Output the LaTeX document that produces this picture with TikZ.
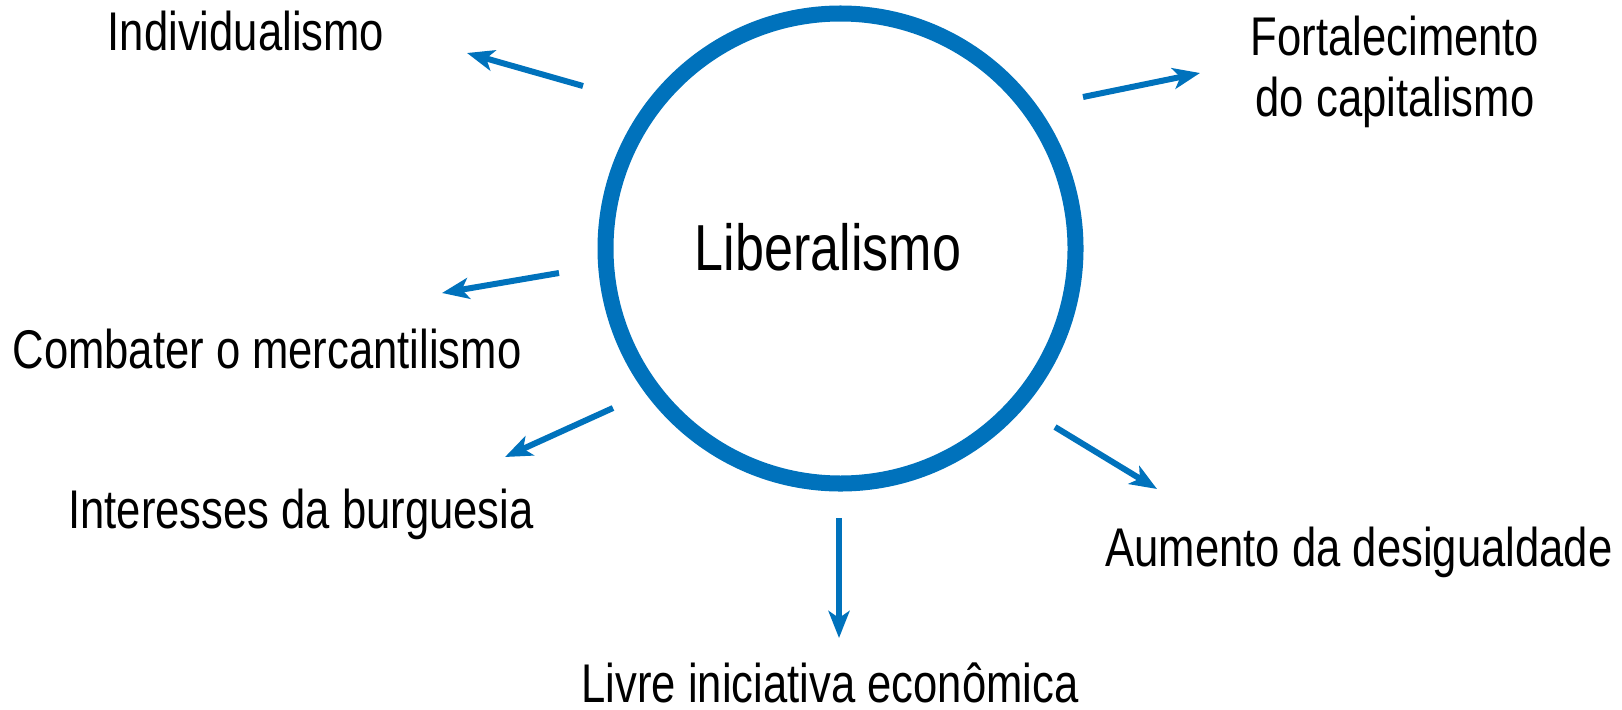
\documentclass[tikz,border=0pt]{standalone}
\usepackage{fontspec}
\setmainfont{Liberation Sans}[FakeStretch=0.8]
\usetikzlibrary{arrows.meta}

\definecolor{libblue}{RGB}{0,114,188}

\begin{document}
\begin{tikzpicture}[x=0.01cm, y=0.01cm]
            \tikzstyle{every node}+=[inner sep=0pt]
            \tikzstyle{lbl}=[anchor=base, font=\fontsize{15.5}{17.1}\selectfont]
            \tikzstyle{ray}=[libblue, line width=0.06cm, -{Stealth[length=0.27cm, width=0.21cm, inset=0.07cm]}]
            \useasboundingbox (0,0) rectangle (1622,-709);
            \draw [libblue, line width=0.16cm] (840.5,-248.5) circle (235);
            \node [lbl, font=\fontsize{18.5}{20}\selectfont] (lib) at (828,-270) {Liberalismo};
            \node [lbl] (ind) at (246,-51) {Individualismo};
            \node [lbl, align=center] (cap) at (1395,-116) {Fortalecimento\\do capitalismo};
            \node [lbl] (merc) at (267,-368) {Combater o mercantilismo};
            \node [lbl] (burg) at (301,-528) {Interesses da burguesia};
            \node [lbl] (des) at (1359,-566) {Aumento da desigualdade};
            \node [lbl] (livre) at (830,-702) {Livre iniciativa econômica};
            \coordinate (t1) at (583,-86);   \coordinate (h1) at (467,-53);
            \coordinate (t2) at (1083,-97);  \coordinate (h2) at (1200,-73);
            \coordinate (t3) at (559,-273);  \coordinate (h3) at (442,-293);
            \coordinate (t4) at (613,-408);  \coordinate (h4) at (505,-457);
            \coordinate (t5) at (1055,-427); \coordinate (h5) at (1157,-489);
            \coordinate (t6) at (839,-518);  \coordinate (h6) at (839,-638);
            \draw [ray] (t1) -- (h1);
            \draw [ray] (t2) -- (h2);
            \draw [ray] (t3) -- (h3);
            \draw [ray] (t4) -- (h4);
            \draw [ray] (t5) -- (h5);
            \draw [ray] (t6) -- (h6);
        \end{tikzpicture}
\end{document}
